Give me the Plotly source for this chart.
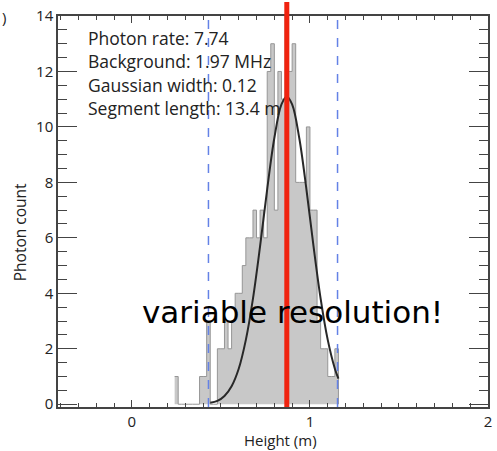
import plotly.graph_objects as go

# ---- data ----
bin_left = [0.24, 0.26, 0.28, 0.30, 0.32, 0.34, 0.36, 0.38, 0.40, 0.42,
            0.44, 0.46, 0.48, 0.50, 0.52, 0.54, 0.56, 0.58, 0.60, 0.62,
            0.64, 0.66, 0.68, 0.70, 0.72, 0.74, 0.76, 0.78, 0.80, 0.82,
            0.84, 0.86, 0.88, 0.90, 0.92, 0.94, 0.96, 0.98, 1.00, 1.02,
            1.04, 1.06, 1.08, 1.10, 1.12, 1.14]
counts = [1, 0, 0, 0, 0, 0, 0, 1, 1, 3,
          0, 0, 2, 2, 3, 2, 3, 4, 4, 5,
          6, 6, 7, 6, 7, 6, 12, 13, 7, 12,
          11, 14, 12, 13, 8, 8, 8, 10, 7, 7,
          3, 2, 2, 1, 1, 2]
bin_width = 0.02

fit_x = [0.44, 0.48, 0.52, 0.56, 0.60, 0.64, 0.68, 0.72, 0.76, 0.80,
         0.84, 0.87, 0.90, 0.94, 0.98, 1.02, 1.06, 1.10, 1.14, 1.16]
fit_y = [0.05, 0.12, 0.30, 0.65, 1.28, 2.32, 3.81, 5.70, 7.76, 9.60,
         10.81, 11.10, 10.81, 9.60, 7.76, 5.70, 3.81, 2.32, 1.28, 0.92]

fit_center = 0.87
window_edges = [0.43, 1.155]

info_lines = ["Photon rate: 7.74", "Background: 1.97 MHz",
              "Gaussian width: 0.12", "Segment length: 13.4 m"]

x_ticks = [0, 1, 2]
y_ticks = [0, 2, 4, 6, 8, 10, 12, 14]
x_range = [-0.415, 2.0]
y_range = [-0.1, 14]

# ---- layout helpers (pixel geometry of the plot box) ----
L, R, T, B = 58, 5, 14, 44
W, H = 497, 451
PW, PH = W - L - R, H - T - B


def px_x(p):
    return (p - L) / PW


def px_y(p):
    return 1 - (p - T) / PH


fig = go.Figure()

step_x = list(bin_left) + [bin_left[-1] + bin_width]
step_y = list(counts) + [0]
fig.add_trace(go.Scatter(
    x=step_x, y=step_y, mode="lines", line_shape="hv",
    line=dict(color="rgb(150,150,150)", width=1),
    fill="tozeroy", fillcolor="rgb(200,200,200)", hoverinfo="skip"))

fig.add_trace(go.Scatter(
    x=fit_x, y=fit_y, mode="lines", line_shape="spline",
    line=dict(color="rgb(40,40,40)", width=2), hoverinfo="skip"))

for xe in window_edges:
    fig.add_shape(type="line", xref="x", yref="paper", x0=xe, x1=xe, y0=0, y1=1,
                  line=dict(color="rgb(100,130,230)", width=1.5, dash="dash"))
fig.add_shape(type="line", xref="x", yref="paper", x0=fit_center, x1=fit_center,
              y0=0, y1=px_y(0), line=dict(color="rgb(240,35,15)", width=5))

font_main = "Open Sans, Lato, sans-serif"

for i, t in enumerate(info_lines):
    fig.add_annotation(text=t, xref="paper", yref="paper",
                       x=px_x(86), y=px_y(36 + 23.5 * i),
                       xanchor="left", yanchor="middle", showarrow=False,
                       font=dict(family=font_main, size=17.5, color="#222"))

fig.add_annotation(text="variable resolution!", xref="paper", yref="paper",
                   x=px_x(295), y=px_y(312),
                   xanchor="center", yanchor="middle", showarrow=False,
                   font=dict(family="DejaVu Sans", size=31, color="#000"))

fig.add_annotation(text="Height (m)", xref="paper", yref="paper",
                   x=px_x(283), y=px_y(440),
                   xanchor="center", yanchor="middle", showarrow=False,
                   font=dict(family=font_main, size=15, color="#222"))
fig.add_annotation(text="Photon count", xref="paper", yref="paper",
                   x=px_x(20), y=px_y(231), textangle=-90,
                   xanchor="center", yanchor="middle", showarrow=False,
                   font=dict(family=font_main, size=15.5, color="#222"))
fig.add_annotation(text=")", xref="paper", yref="paper",
                   x=px_x(4), y=px_y(15),
                   xanchor="center", yanchor="middle", showarrow=False,
                   font=dict(family=font_main, size=15, color="#222"))

tickfont = dict(family=font_main, size=15, color="#222")

fig.update_xaxes(range=x_range, tickmode="array", tickvals=x_ticks,
                 ticks="inside", ticklen=7, tickwidth=1.3, tickcolor="#444",
                 showline=True, linecolor="#444", linewidth=1.5, mirror="ticks",
                 showgrid=False, zeroline=False, tickfont=tickfont,
                 minor=dict(tick0=0, dtick=0.1, ticks="inside", ticklen=4,
                            tickwidth=1.2, tickcolor="#444", showgrid=False))
fig.update_yaxes(range=y_range, tickmode="array", tickvals=y_ticks,
                 ticks="inside", ticklen=19, tickwidth=1.3, tickcolor="#444",
                 showline=True, linecolor="#444", linewidth=1.5, mirror="ticks",
                 showgrid=False, zeroline=False, tickfont=tickfont,
                 minor=dict(tick0=0, dtick=0.5, ticks="inside", ticklen=9,
                            tickwidth=1.2, tickcolor="#444", showgrid=False))

fig.update_layout(width=W, height=H, margin=dict(l=L, r=R, t=T, b=B),
                  paper_bgcolor="white", plot_bgcolor="white", showlegend=False)

fig.write_html("out.html")
